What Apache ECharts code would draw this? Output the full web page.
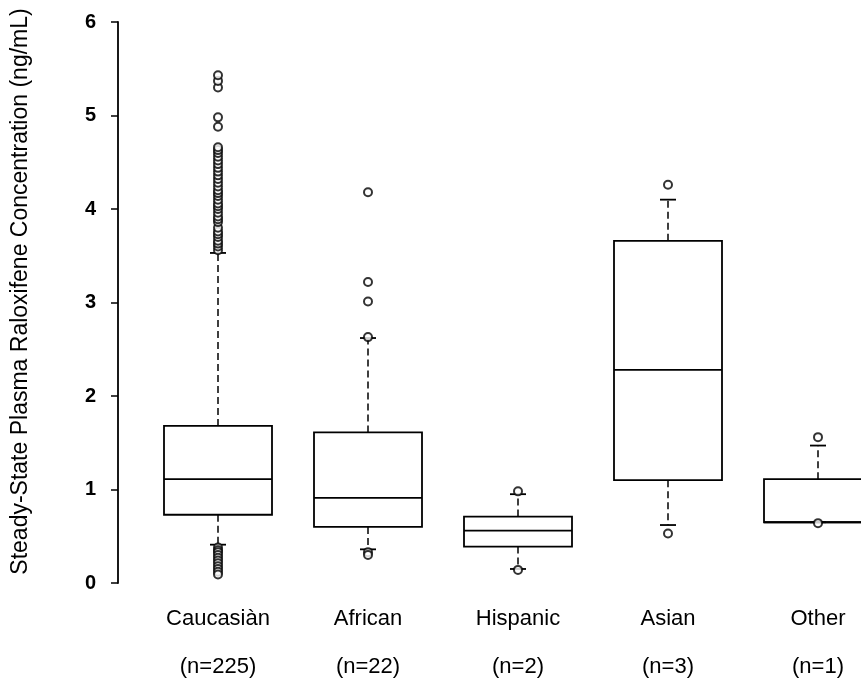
<!DOCTYPE html>
<html>
<head>
<meta charset="utf-8">
<script src="https://cdn.jsdelivr.net/npm/echarts@6/dist/echarts.min.js"></script>
<style>
  html, body { margin: 0; padding: 0; background: #fff; }
  #chart { width: 861px; height: 683px; }
</style>
</head>
<body>
<div id="chart"></div>
<script>
// groups and sample sizes
var categories = ['Caucasiàn', 'African', 'Hispanic', 'Asian', 'Other'];
var sampleSizes = ['(n=225)', '(n=22)', '(n=2)', '(n=3)', '(n=1)'];
var yTicks = [0, 1, 2, 3, 4, 5, 6];

// box stats (ng/mL)
var whiskerLow = [0.41, 0.36, 0.15, 0.62, 0.65];
var q1 = [0.73, 0.60, 0.39, 1.10, 0.65];
var median = [1.11, 0.91, 0.56, 2.28, 0.65];
var q3 = [1.68, 1.61, 0.71, 3.66, 1.11];
var whiskerHigh = [3.53, 2.62, 0.95, 4.10, 1.47];

// outliers per group
var caucasianOutliers = [3.56, 3.60, 3.63, 3.66, 3.70, 3.73, 3.76, 3.80, 3.86, 3.89, 3.92, 3.96,
  4.00, 4.03, 4.06, 4.10, 4.14, 4.17, 4.20, 4.24, 4.28, 4.32, 4.36, 4.40, 4.44, 4.48, 4.52,
  4.56, 4.60, 4.63, 4.66, 4.88, 4.98, 5.30, 5.37, 5.43,
  0.38, 0.35, 0.33, 0.30, 0.27, 0.24, 0.21, 0.18, 0.15, 0.12, 0.09];
var africanOutliers = [4.18, 3.22, 3.01, 2.63, 0.33, 0.30];
var hispanicOutliers = [0.98, 0.14];
var asianOutliers = [4.26, 0.53];
var otherOutliers = [1.56, 0.64];

var outlierGroups = [caucasianOutliers, africanOutliers, hispanicOutliers, asianOutliers, otherOutliers];

var boxData = categories.map(function (c, i) {
  return [i, whiskerLow[i], q1[i], median[i], q3[i], whiskerHigh[i]];
});
var outlierData = [];
outlierGroups.forEach(function (arr, i) {
  arr.forEach(function (v) { outlierData.push([i, v]); });
});

var chart = echarts.init(document.getElementById('chart'));

function renderBox(params, api) {
  var i = api.value(0);
  var low = api.coord([i, api.value(1)]);
  var b1 = api.coord([i, api.value(2)]);
  var med = api.coord([i, api.value(3)]);
  var b3 = api.coord([i, api.value(4)]);
  var high = api.coord([i, api.value(5)]);
  var x = low[0];
  var half = api.size([1, 0])[0] * 0.36;
  var cap = 8;
  var line = { stroke: '#000', lineWidth: 1.8, fill: null };
  var dashed = { stroke: '#000', lineWidth: 1.5, lineDash: [7, 4] };
  var kids = [
    { type: 'rect', shape: { x: x - half, y: b3[1], width: half * 2, height: b1[1] - b3[1] }, style: line },
    { type: 'line', shape: { x1: x - half, y1: med[1], x2: x + half, y2: med[1] }, style: line },
    { type: 'line', shape: { x1: x, y1: b3[1], x2: x, y2: high[1] }, style: dashed },
    { type: 'line', shape: { x1: x, y1: b1[1], x2: x, y2: low[1] }, style: dashed },
    { type: 'line', shape: { x1: x - cap, y1: high[1], x2: x + cap, y2: high[1] }, style: line },
    { type: 'line', shape: { x1: x - cap, y1: low[1], x2: x + cap, y2: low[1] }, style: line }
  ];
  return { type: 'group', children: kids };
}

var option = {
  backgroundColor: '#fff',
  animation: false,
  grid: {
    left: 143,
    width: 750,
    top: 22,
    bottom: 100,
    outerBoundsMode: 'none',
    containLabel: false
  },
  xAxis: {
    type: 'category',
    data: categories,
    boundaryGap: true,
    axisLine: { show: false },
    axisTick: { show: false },
    splitLine: { show: false },
    axisLabel: {
      interval: 0,
      margin: 12,
      color: '#000',
      fontFamily: 'Liberation Sans',
      fontSize: 22,
      lineHeight: 48,
      formatter: function (value, index) {
        return value + '\n' + sampleSizes[index];
      }
    }
  },
  yAxis: {
    type: 'value',
    min: yTicks[0],
    max: yTicks[yTicks.length - 1],
    interval: 1,
    offset: 25,
    name: 'Steady-State Plasma Raloxifene Concentration (ng/mL)',
    nameLocation: 'middle',
    nameGap: 86,
    nameTextStyle: {
      color: '#000',
      fontFamily: 'Liberation Sans',
      fontSize: 23,
      padding: [0, 0, 0, 22]
    },
    axisLine: { show: true, lineStyle: { color: '#000', width: 1.8 } },
    axisTick: { show: true, length: 7, lineStyle: { color: '#000', width: 1.5 } },
    splitLine: { show: false },
    axisLabel: {
      margin: 22,
      color: '#000',
      fontFamily: 'Liberation Sans',
      fontWeight: 'bold',
      fontSize: 20
    }
  },
  series: [
    {
      type: 'custom',
      renderItem: renderBox,
      encode: { x: 0, y: [1, 2, 3, 4, 5] },
      data: boxData,
      clip: false,
      z: 2
    },
    {
      type: 'scatter',
      data: outlierData,
      symbol: 'emptyCircle',
      symbolSize: 8,
      itemStyle: { color: '#000', borderColor: '#000', borderWidth: 2.2 },
      z: 3
    }
  ]
};

chart.setOption(option);
</script>
</body>
</html>
